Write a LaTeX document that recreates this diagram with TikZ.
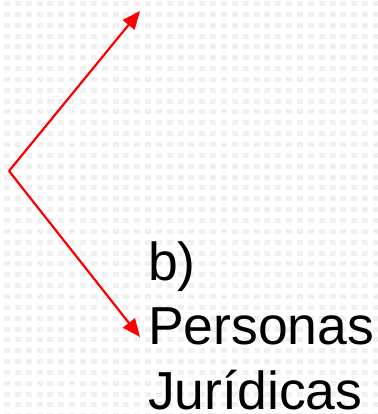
\documentclass[tikz,border=0pt]{standalone}
\usepackage{fontspec}
\setmainfont{Liberation Sans}
\usetikzlibrary{arrows.meta}
\definecolor{dotgray}{HTML}{F0F0F0}
\definecolor{arrred}{HTML}{FF0000}
\begin{document}
\begin{tikzpicture}[x=1pt,y=-1pt,
  conn/.style={draw=arrred,line width=2.2pt,-{Triangle[length=18pt,width=15pt]}},
  label/.style={inner sep=0pt,align=left,font=\fontsize{53.5}{64.5}\selectfont}]
\useasboundingbox (0,0) rectangle (377,414);
\fill[white] (0,0) rectangle (377,414);
\foreach \i in {0,...,34}{
  \foreach \j in {0,...,38}{
    \fill[dotgray] ({4+10.85*\i},{1+10.85*\j}) rectangle ++(6,5);
  }
}
\coordinate (v) at (9,171);
\coordinate (a) at (140,11);
\coordinate (b) at (140,337);
\node[label,anchor=base west] (t) at (148,409) {b)\\Personas\\Jurídicas};
\draw[conn] (v) -- (a);
\draw[conn] (v) -- (b);
\end{tikzpicture}
\end{document}
